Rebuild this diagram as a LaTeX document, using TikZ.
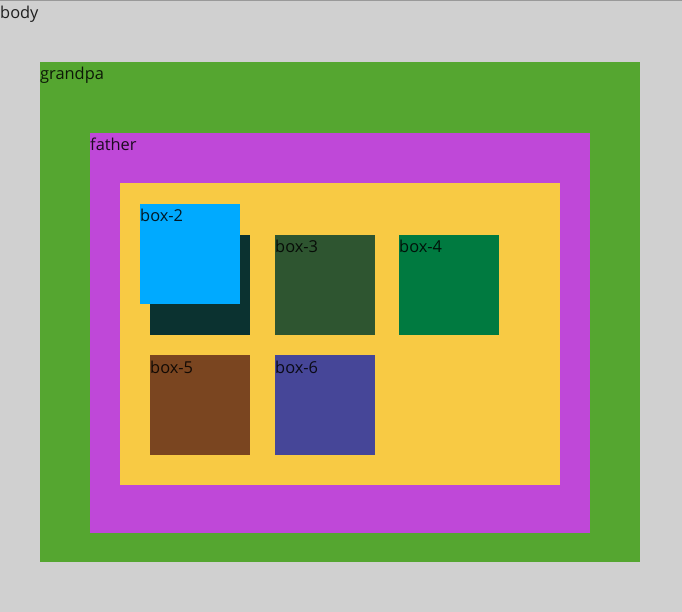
\documentclass[tikz,border=0pt]{standalone}
\usepackage{fontspec}
\setmainfont{Open Sans}
\definecolor{bodygray}{HTML}{D0D0D0}
\definecolor{grandgreen}{HTML}{55A630}
\definecolor{fathermag}{HTML}{BF48D8}
\definecolor{inneryel}{HTML}{F8CA44}
\definecolor{boxcyan}{HTML}{00AAFF}
\definecolor{boxnight}{HTML}{0B3230}
\definecolor{boxmoss}{HTML}{2E5530}
\definecolor{boxpine}{HTML}{007A40}
\definecolor{boxrust}{HTML}{7A4520}
\definecolor{boxindigo}{HTML}{464698}
\begin{document}
\begin{tikzpicture}[x=1pt,y=-1pt,
		every node/.style={font=\fontsize{16.4}{18}\selectfont},
		area/.style={anchor=north west,inner sep=0pt,outer sep=0pt},
		box/.style={area,minimum size=100pt},
		lbl/.style={anchor=base west,inner sep=0pt,yshift=-18pt,text=black,text opacity=0.85}]
		
		\useasboundingbox (0,0) rectangle (682,612);
		\fill[bodygray] (0,0) rectangle (682,612);
		\draw[gray!80,line width=1pt] (0,0.5) -- (682,0.5);
		\node[lbl] (bodytext) at (0,1) {body};
		
		\node[area,fill=grandgreen,minimum width=600pt,minimum height=500pt,
			label={[lbl]north west:grandpa}] (grandpa) at (40,62) {};
		\node[area,fill=fathermag,minimum width=500pt,minimum height=400pt,
			label={[lbl]north west:father}] (father) at (90,133) {};
		\node[area,fill=inneryel,minimum width=440pt,minimum height=302pt] (inner) at (120,183) {};
		
		\node[box,fill=boxnight] (box1) at (150,235) {};
		\node[box,fill=boxcyan,label={[lbl]north west:box-2}] (box2) at (140,204) {};
		\node[box,fill=boxmoss,label={[lbl]north west:box-3}] (box3) at (275,235) {};
		\node[box,fill=boxpine,label={[lbl]north west:box-4}] (box4) at (399,235) {};
		\node[box,fill=boxrust,label={[lbl]north west:box-5}] (box5) at (150,355) {};
		\node[box,fill=boxindigo,label={[lbl]north west:box-6}] (box6) at (275,355) {};
		\end{tikzpicture}
\end{document}
